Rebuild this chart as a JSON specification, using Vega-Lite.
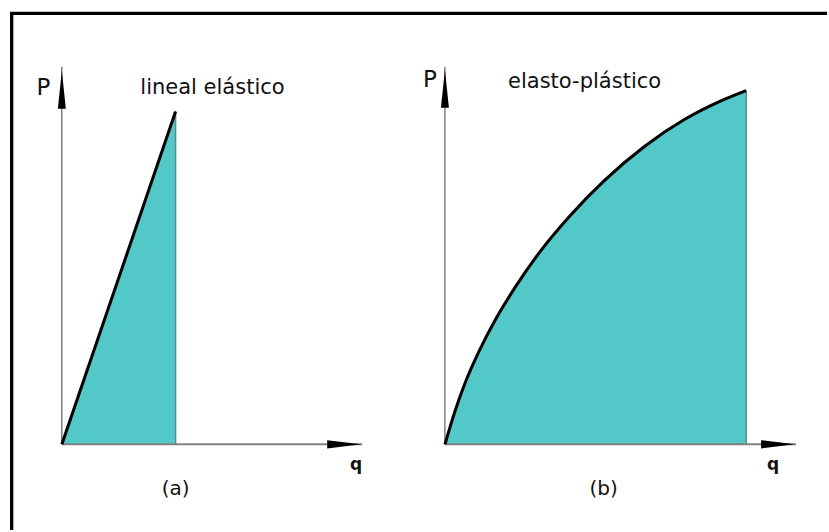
{
  "$schema": "https://vega.github.io/schema/vega-lite/v6.json",
  "width": 829,
  "height": 532,
  "autosize": {"type": "fit", "contains": "padding"},
  "padding": 0,
  "background": "white",
  "config": {"view": {"stroke": null}},
  "datasets": {
    "border": [{"x": 10, "y": 518.5, "x2": 829, "y2": 518.5}, {"x": 11.7, "y": 0, "x2": 11.7, "y2": 520}],
    "vaxes": [{"x": 62, "y": 86, "x2": 62, "y2": 465}, {"x": 446, "y": 86, "x2": 446, "y2": 465}],
    "haxes": [{"x": 62, "y": 86, "x2": 363, "y2": 86}, {"x": 446, "y": 86, "x2": 798, "y2": 86}],
    "uparrows": [{"x": 62, "y": 442}, {"x": 446, "y": 443}],
    "rightarrows": [{"x": 345, "y": 86}, {"x": 780, "y": 86}],
    "lin": [{"x": 62, "y": 86, "y0": 86}, {"x": 176, "y": 420, "y0": 86}],
    "ep": [
      {"x": 446, "y": 86, "y0": 86}, {"x": 456, "y": 119, "y0": 86}, {"x": 466, "y": 147, "y0": 86},
      {"x": 481, "y": 181, "y0": 86}, {"x": 496, "y": 210, "y0": 86}, {"x": 516, "y": 243, "y0": 86},
      {"x": 541, "y": 279, "y0": 86}, {"x": 571, "y": 315, "y0": 86}, {"x": 606, "y": 351, "y0": 86},
      {"x": 646, "y": 385, "y0": 86}, {"x": 686, "y": 412, "y0": 86}, {"x": 721, "y": 430, "y0": 86},
      {"x": 748, "y": 441, "y0": 86}
    ],
    "edges": [{"x": 176, "y": 86, "x2": 176, "y2": 420}, {"x": 748, "y": 86, "x2": 748, "y2": 441}],
    "titles": [{"x": 213, "y": 444, "text": "lineal elástico"}, {"x": 586, "y": 450, "text": "elasto-plástico"}],
    "plabels": [{"x": 43.5, "y": 444, "text": "P"}, {"x": 431, "y": 452, "text": "P"}],
    "qlabels": [{"x": 357, "y": 65, "text": "q"}, {"x": 775, "y": 65, "text": "q"}],
    "caps": [{"x": 176, "y": 41, "text": "(a)"}, {"x": 605, "y": 41, "text": "(b)"}]
  },
  "encoding": {
    "x": {"field": "x", "type": "quantitative", "scale": {"domain": [0, 829], "nice": false, "zero": false}, "axis": null},
    "y": {"field": "y", "type": "quantitative", "scale": {"domain": [0, 532], "nice": false, "zero": false}, "axis": null}
  },
  "layer": [
    {"data": {"name": "lin"}, "mark": {"type": "area", "color": "#52c8c8", "opacity": 1}, "encoding": {"y2": {"field": "y0"}}},
    {"data": {"name": "ep"}, "mark": {"type": "area", "color": "#52c8c8", "opacity": 1, "interpolate": "monotone"}, "encoding": {"y2": {"field": "y0"}}},
    {"data": {"name": "edges"}, "mark": {"type": "rule", "color": "#5a8a8a", "strokeWidth": 1.5}, "encoding": {"x2": {"field": "x2"}, "y2": {"field": "y2"}}},
    {"data": {"name": "vaxes"}, "mark": {"type": "rule", "color": "#404040", "strokeWidth": 1}, "encoding": {"x2": {"field": "x2"}, "y2": {"field": "y2"}}},
    {"data": {"name": "haxes"}, "mark": {"type": "rule", "color": "#808080", "strokeWidth": 2}, "encoding": {"x2": {"field": "x2"}, "y2": {"field": "y2"}}},
    {"data": {"name": "lin"}, "mark": {"type": "line", "color": "black", "strokeWidth": 3}, "encoding": {}},
    {"data": {"name": "ep"}, "mark": {"type": "line", "color": "black", "strokeWidth": 3, "interpolate": "monotone"}, "encoding": {}},
    {"data": {"name": "border"}, "mark": {"type": "rule", "color": "black", "strokeWidth": 3.3}, "encoding": {"x2": {"field": "x2"}, "y2": {"field": "y2"}}},
    {"data": {"name": "uparrows"}, "mark": {"type": "point", "shape": "M0,-1L0.21,1L-0.21,1Z", "filled": true, "color": "black", "opacity": 1, "size": 1444, "strokeWidth": 0}},
    {"data": {"name": "rightarrows"}, "mark": {"type": "point", "shape": "M1,0L-1,0.24L-1,-0.24Z", "filled": true, "color": "black", "opacity": 1, "size": 1156, "strokeWidth": 0}},
    {"data": {"name": "titles"}, "mark": {"type": "text", "font": "DejaVu Sans", "fontSize": 21, "color": "#111", "align": "center", "baseline": "middle"}, "encoding": {"text": {"field": "text"}}},
    {"data": {"name": "plabels"}, "mark": {"type": "text", "font": "DejaVu Sans", "fontSize": 23, "color": "#111", "align": "center", "baseline": "middle"}, "encoding": {"text": {"field": "text"}}},
    {"data": {"name": "qlabels"}, "mark": {"type": "text", "font": "DejaVu Sans", "fontWeight": "bold", "fontSize": 17, "color": "#111", "align": "center", "baseline": "middle"}, "encoding": {"text": {"field": "text"}}},
    {"data": {"name": "caps"}, "mark": {"type": "text", "font": "DejaVu Sans", "fontSize": 20, "color": "#111", "align": "center", "baseline": "middle"}, "encoding": {"text": {"field": "text"}}}
  ]
}
